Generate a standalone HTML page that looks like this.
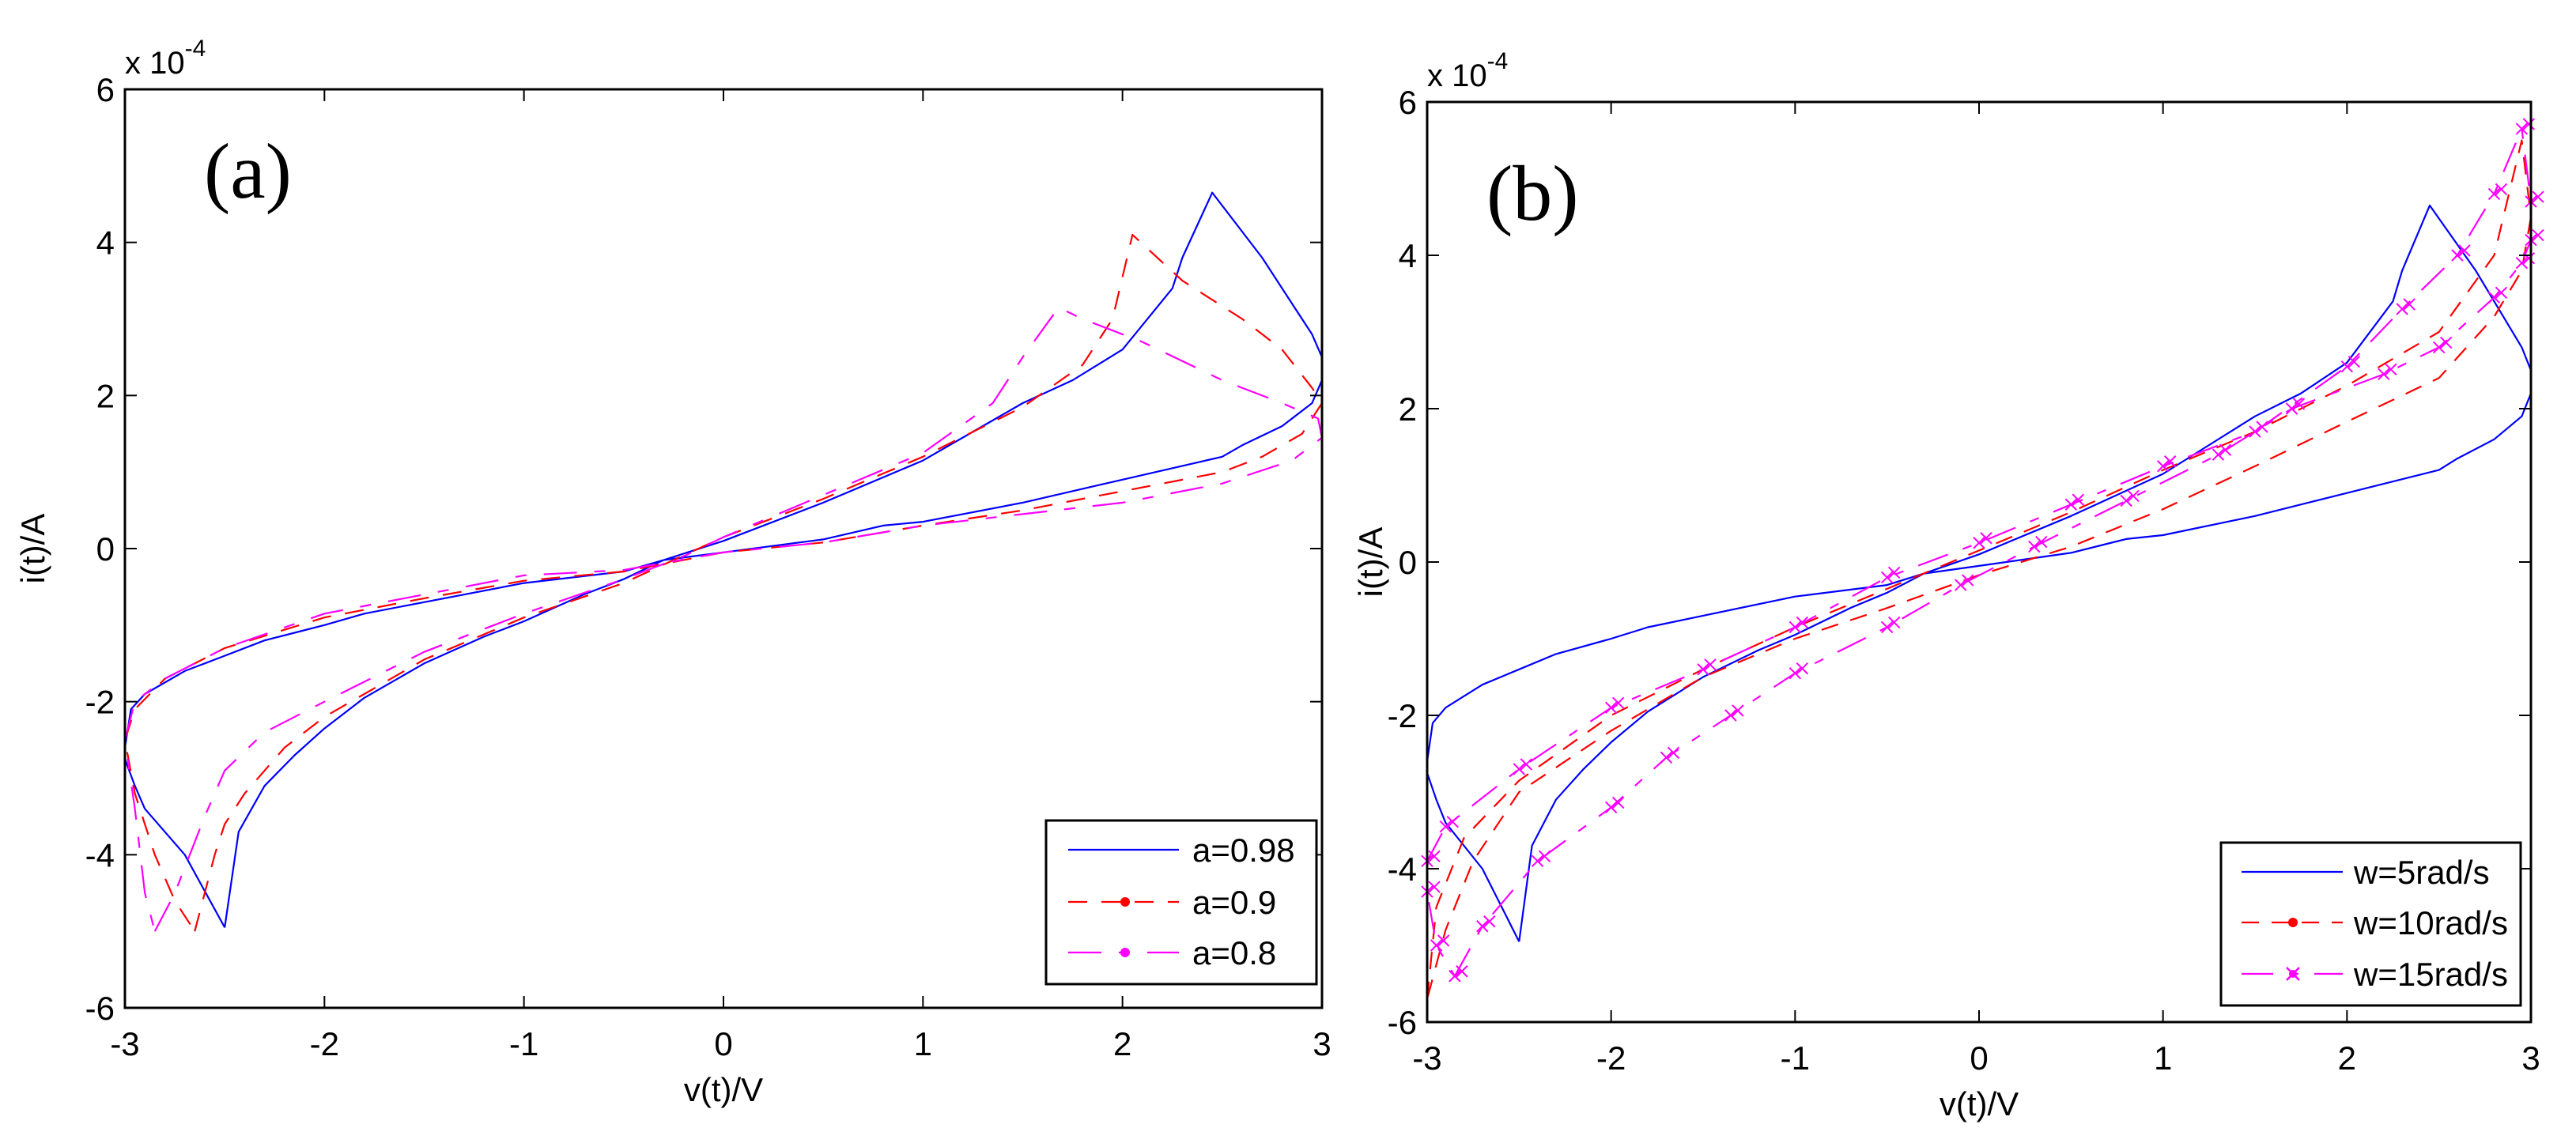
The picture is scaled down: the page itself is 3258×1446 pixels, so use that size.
<!DOCTYPE html>
<html><head><meta charset="utf-8"><style>
html,body{margin:0;padding:0;background:#fff;}
svg{display:block;}
text{font-family:"Liberation Sans",Arial,sans-serif;fill:#000;}
text.serif{font-family:"Liberation Serif","Times New Roman",serif;}
</style></head><body>
<svg id="fig" width="3258" height="1446" viewBox="0 0 3258 1446" xmlns="http://www.w3.org/2000/svg"></svg>
<script>
// ---- data (units of 1e-4 A) ----
const xTicks = [-3,-2,-1,0,1,2,3];
const yTicks = [-6,-4,-2,0,2,4,6];
const xTickLabels = ["-3","-2","-1","0","1","2","3"];
const yTickLabels = ["-6","-4","-2","0","2","4","6"];

const blueLoop = [[-2.5,-4.95],[-2.43,-3.7],[-2.3,-3.1],[-2.15,-2.7],[-2,-2.35],[-1.8,-1.95],[-1.5,-1.5],[-1.2,-1.15],[-1,-0.95],[-0.7,-0.6],[-0.5,-0.4],[-0.3,-0.15],[0,0.1],[0.5,0.6],[1,1.15],[1.5,1.9],[1.75,2.2],[2,2.6],[2.25,3.4],[2.3,3.8],[2.45,4.65],[2.7,3.8],[2.85,3.2],[2.95,2.8],[3,2.5],[3,2.2],[2.95,1.9],[2.8,1.6],[2.6,1.35],[2.5,1.2],[2,0.9],[1.5,0.6],[1,0.35],[0.8,0.3],[0.5,0.12],[0,-0.05],[-0.3,-0.15],[-0.5,-0.3],[-1,-0.45],[-1.5,-0.7],[-1.8,-0.85],[-2,-1.0],[-2.3,-1.2],[-2.5,-1.4],[-2.7,-1.6],[-2.9,-1.9],[-2.97,-2.1],[-3,-2.6],[-3,-2.75],[-2.95,-3.1],[-2.9,-3.4],[-2.7,-4.0],[-2.5,-4.95]];

const redA = [[-2.65,-5.0],[-2.55,-4.0],[-2.5,-3.6],[-2.4,-3.2],[-2.2,-2.6],[-2,-2.2],[-1.5,-1.45],[-1,-0.9],[-0.5,-0.45],[-0.25,-0.15],[0,0.15],[0.5,0.65],[1,1.2],[1.5,1.85],[1.8,2.4],[1.95,3.0],[2.05,4.1],[2.3,3.5],[2.6,3.0],[2.8,2.6],[2.95,2.1],[3,1.9],[2.9,1.5],[2.7,1.2],[2.5,1.0],[2,0.75],[1.5,0.5],[1,0.3],[0.5,0.08],[0,-0.05],[-0.5,-0.3],[-1,-0.42],[-1.5,-0.65],[-2,-0.9],[-2.5,-1.3],[-2.8,-1.7],[-2.95,-2.1],[-3,-2.5],[-2.95,-3.2],[-2.85,-4.0],[-2.75,-4.6],[-2.65,-5.0]];

const magA = [[-2.85,-5.0],[-2.75,-4.5],[-2.6,-3.5],[-2.5,-2.9],[-2.3,-2.4],[-2,-2.0],[-1.5,-1.35],[-1,-0.85],[-0.5,-0.4],[-0.2,-0.1],[0,0.15],[0.5,0.7],[1,1.25],[1.35,1.9],[1.5,2.5],[1.68,3.15],[1.8,3.0],[2.1,2.7],[2.5,2.2],[2.8,1.9],[2.98,1.7],[3,1.45],[2.85,1.15],[2.5,0.85],[2,0.6],[1.5,0.45],[1,0.3],[0.5,0.08],[0,-0.05],[-0.5,-0.28],[-1,-0.35],[-1.5,-0.6],[-2,-0.85],[-2.5,-1.3],[-2.8,-1.7],[-2.95,-2.0],[-3,-2.5],[-2.95,-3.4],[-2.9,-4.5],[-2.85,-5.0]];

const redB = [[-3,-5.7],[-2.95,-4.5],[-2.8,-3.6],[-2.5,-2.85],[-2,-2.0],[-1.5,-1.4],[-1,-0.85],[-0.5,-0.35],[0,0.15],[0.5,0.65],[1,1.2],[1.5,1.7],[2,2.3],[2.5,3.0],[2.8,4.0],[2.95,5.5],[3,4.5],[2.95,3.8],[2.8,3.2],[2.5,2.4],[2,1.83],[1.5,1.25],[1,0.69],[0.5,0.2],[0,-0.17],[-0.5,-0.6],[-1,-1.0],[-1.5,-1.5],[-2,-2.2],[-2.5,-3.0],[-2.75,-3.9],[-2.9,-4.8],[-3,-5.7]];

const magB = [[-2.85,-5.4],[-2.7,-4.75],[-2.4,-3.9],[-2,-3.2],[-1.7,-2.55],[-1.35,-2.0],[-1,-1.45],[-0.5,-0.85],[-0.1,-0.3],[0.3,0.2],[0.8,0.8],[1.3,1.4],[1.7,2.0],[2.2,2.45],[2.5,2.8],[2.8,3.45],[2.95,3.9],[3,4.2],[3,4.7],[2.95,5.65],[2.8,4.8],[2.6,4.0],[2.3,3.3],[2,2.55],[1.5,1.7],[1,1.25],[0.5,0.75],[0,0.25],[-0.5,-0.2],[-1,-0.85],[-1.5,-1.4],[-2,-1.9],[-2.5,-2.7],[-2.9,-3.45],[-3,-3.9],[-3,-4.3],[-2.95,-5.0],[-2.85,-5.4]];

const NS="http://www.w3.org/2000/svg";
const svg=document.getElementById('fig');
function mk(tag,attrs,parent){const e=document.createElementNS(NS,tag);for(const k in attrs)e.setAttribute(k,attrs[k]);(parent||svg).appendChild(e);return e;}

const panels=[
 {id:'a',L:158,T:113,R:1672,B:1275,ylabX:56,lab:'(a)',labX:258,labY:250,
  leg:{x:1323,y:1038,w:342,h:207,lx1:1351,lx2:1491,mx:1423,tx:1508,rows:[1075,1141,1205]},
  series:[{d:blueLoop,c:'#0000ff',dash:'',name:'a=0.98',mk:''},{d:redA,c:'#ff0000',dash:'24 18',name:'a=0.9',mk:'dot'},{d:magA,c:'#ff00ff',dash:'42 22 14 22',name:'a=0.8',mk:'dot'}]},
 {id:'b',L:1805,T:129,R:3201,B:1293,ylabX:1748,lab:'(b)',labX:1880,labY:278,
  leg:{x:2809,y:1066,w:379,h:206,lx1:2835,lx2:2963,mx:2900,tx:2977,rows:[1103,1167,1232]},
  series:[{d:blueLoop,c:'#0000ff',dash:'',name:'w=5rad/s',mk:''},{d:redB,c:'#ff0000',dash:'22 16',name:'w=10rad/s',mk:'dot'},{d:magB,c:'#ff00ff',dash:'40 20 12 20',name:'w=15rad/s',mk:'x'}]}
];

panels.forEach(p=>{
  const g=mk('g',{});
  
  
  const sx=v=>p.L+(v+3)/6*(p.R-p.L);
  const sy=v=>p.B-(v+6)/12*(p.B-p.T);
  p.series.forEach((s,si)=>{
    const pts=s.d.map(q=>sx(q[0]).toFixed(1)+','+sy(q[1]).toFixed(1)).join(' ');
    const pl=mk('polyline',{points:pts,fill:'none',stroke:s.c,'stroke-width':2.2,'stroke-dasharray':s.dash,'stroke-linejoin':'round'},g);
    
    
    if(s.mk==='x'){
      s.d.forEach((q,i)=>{
        const x=sx(q[0]),y=sy(q[1]);
        [[0,0],[9,-6]].forEach(o=>{
          const m=mk('path',{d:`M${x+o[0]-7},${y+o[1]-7}L${x+o[0]+7},${y+o[1]+7}M${x+o[0]-7},${y+o[1]+7}L${x+o[0]+7},${y+o[1]-7}`,stroke:s.c,'stroke-width':2,fill:'none'},g);
          
          
        });
      });
    }
  });
  const box=mk('rect',{x:p.L,y:p.T,width:p.R-p.L,height:p.B-p.T,fill:'none',stroke:'#000','stroke-width':3},g);
  
  
  xTicks.forEach((t,i)=>{
    const x=sx(t);
    mk('line',{x1:x,y1:p.B,x2:x,y2:p.B-15,stroke:'#000','stroke-width':2},g);
    mk('line',{x1:x,y1:p.T,x2:x,y2:p.T+15,stroke:'#000','stroke-width':2},g);
    const tx=mk('text',{x:x,y:p.B+60,'font-size':42,'text-anchor':'middle'},g);
    tx.textContent=xTickLabels[i];
    
    
  });
  yTicks.forEach((t,i)=>{
    const y=sy(t);
    mk('line',{x1:p.L,y1:y,x2:p.L+15,y2:y,stroke:'#000','stroke-width':2},g);
    mk('line',{x1:p.R,y1:y,x2:p.R-15,y2:y,stroke:'#000','stroke-width':2},g);
    const ty=mk('text',{x:p.L-13,y:y+15,'font-size':42,'text-anchor':'end'},g);
    ty.textContent=yTickLabels[i];
    
    
  });
  const xl=mk('text',{x:(p.L+p.R)/2,y:p.B+118,'font-size':42,'text-anchor':'middle'},g);
  xl.textContent='v(t)/V';
  
  
  const yl=mk('text',{x:p.ylabX,y:(p.T+p.B)/2,'font-size':42,'text-anchor':'middle',transform:`rotate(-90 ${p.ylabX} ${(p.T+p.B)/2})`},g);
  yl.textContent='i(t)/A';
  
  
  const ex=mk('text',{x:p.L,y:p.T-20,'font-size':40},g);
  ex.innerHTML='x 10<tspan dy="-22" font-size="30">-4</tspan>';
  
  
  const pl=mk('text',{x:p.labX,y:p.labY,'font-size':100,'class':'serif'},g);
  pl.textContent=p.lab;
  
  
  const lg=mk('g',{},g);
  
  
  mk('rect',{x:p.leg.x,y:p.leg.y,width:p.leg.w,height:p.leg.h,fill:'#fff',stroke:'#000','stroke-width':3},lg);
  p.series.forEach((s,si)=>{
    const y=p.leg.rows[si];
    const e=mk('g',{},lg);
    
    
    mk('line',{x1:p.leg.lx1,y1:y,x2:p.leg.lx2,y2:y,stroke:s.c,'stroke-width':2.2,'stroke-dasharray':s.dash},e);
    if(s.mk==='dot') mk('circle',{cx:p.leg.mx,cy:y,r:6,fill:s.c},e);
    if(s.mk==='x'){mk('circle',{cx:p.leg.mx,cy:y,r:5,fill:s.c},e);mk('path',{d:`M${p.leg.mx-8},${y-8}L${p.leg.mx+8},${y+8}M${p.leg.mx-8},${y+8}L${p.leg.mx+8},${y-8}`,stroke:s.c,'stroke-width':2.5},e);}
    const t=mk('text',{x:p.leg.tx,y:y+15,'font-size':42},e);
    t.textContent=s.name;
  });
});
</script>
</body></html>
